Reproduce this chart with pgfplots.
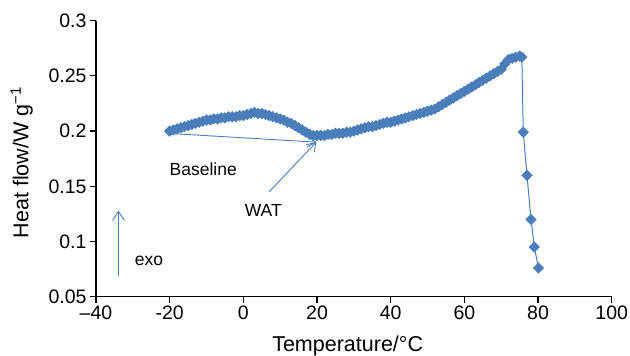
\documentclass[border=0pt]{standalone}
\usepackage{fontspec}
\setmainfont{Liberation Sans}
\usepackage{pgfplots}
\pgfplotsset{compat=1.18}
\usetikzlibrary{arrows.meta}
\definecolor{exblue}{RGB}{74,126,187}
\begin{document}
\begin{tikzpicture}
\begin{axis}[
  scale only axis, width=515.7bp, height=276bp,
  xmin=-40, xmax=100, ymin=0.05, ymax=0.3,
  axis x line*=bottom, axis y line*=left,
  axis line style={line width=1.4bp, -},
  tick align=outside, major tick length=6bp,
  tick style={line width=1.2bp, black},
  xtick={-40,-20,0,20,40,60,80,100},
  xticklabels={{--40},{-20},0,20,40,60,80,100},
  ytick={0.05,0.1,0.15,0.2,0.25,0.3},
  yticklabels={0.05,0.1,0.15,0.2,0.25,0.3},
  ticklabel style={font=\fontsize{19.5bp}{23bp}\selectfont},
  clip=false,
]
\addplot[color=exblue, line width=1bp, mark=square*, mark size=3.8bp,
  mark options={rotate=45, fill=exblue, draw=exblue, line width=0.3bp}] table {
x y
-20 0.200
-19 0.201
-18 0.202
-17 0.203
-16 0.204
-15 0.205
-14 0.206
-13 0.207
-12 0.208
-11 0.209
-10 0.210
-9 0.210
-8 0.211
-7 0.211
-6 0.212
-5 0.212
-4 0.213
-3 0.213
-2 0.213
-1 0.214
0 0.214
1 0.215
2 0.216
3 0.217
4 0.216
5 0.216
6 0.215
7 0.214
8 0.213
9 0.212
10 0.211
11 0.210
12 0.208
13 0.207
14 0.205
15 0.203
16 0.201
17 0.199
18 0.197
19 0.196
20 0.196
21 0.196
22 0.196
23 0.197
24 0.197
25 0.198
26 0.198
27 0.198
28 0.199
29 0.199
30 0.200
31 0.201
32 0.202
33 0.203
34 0.204
35 0.204
36 0.205
37 0.206
38 0.207
39 0.208
40 0.208
41 0.209
42 0.210
43 0.211
44 0.212
45 0.213
46 0.214
47 0.215
48 0.216
49 0.217
50 0.218
51 0.219
52 0.220
53 0.222
54 0.224
55 0.226
56 0.228
57 0.230
58 0.232
59 0.234
60 0.236
61 0.238
62 0.240
63 0.242
64 0.244
65 0.246
66 0.248
67 0.250
68 0.252
69 0.254
70 0.256
71 0.261
72 0.265
73 0.266
74 0.267
75 0.268
75.6 0.267
76 0.199
77 0.160
78.1 0.120
79 0.095
80.1 0.076
};
\draw[exblue, line width=0.9bp, -{Straight Barb[length=8bp,width=11bp]}] (axis cs:-20.7,0.198) -- (axis cs:19.8,0.190);
\draw[exblue, line width=0.9bp, -{Straight Barb[length=8bp,width=11bp]}] (axis cs:7.0,0.145) -- (axis cs:19.8,0.190);
\draw[exblue, line width=0.9bp, -{Straight Barb[length=9bp,width=12bp]}] (axis cs:-33.9,0.0688) -- (axis cs:-33.9,0.128);
\node[font=\fontsize{17.5bp}{20bp}\selectfont] at (axis cs:-10.9,0.1657) {Baseline};
\node[font=\fontsize{17.5bp}{20bp}\selectfont] at (axis cs:5.4,0.1285) {WAT};
\node[font=\fontsize{17.5bp}{20bp}\selectfont] at (axis cs:-25.6,0.0826) {exo};
\node[font=\fontsize{21.5bp}{25bp}\selectfont, anchor=base] at ([yshift=-54.3bp]rel axis cs:0.488,0) {Temperature/°C};
\node[font=\fontsize{21.5bp}{25bp}\selectfont, anchor=base, rotate=90] at ([xshift=-67.7bp]rel axis cs:0,0.486) {Heat flow/W g\textsuperscript{−1}};
\coordinate (bl) at (rel axis cs:0,0);
\coordinate (tr) at (rel axis cs:1,1);
\end{axis}
\pgfresetboundingbox
\path ([shift={(-96bp,-59.3bp)}]bl) rectangle ([shift={(18.3bp,20.7bp)}]tr);
\end{tikzpicture}
\end{document}
